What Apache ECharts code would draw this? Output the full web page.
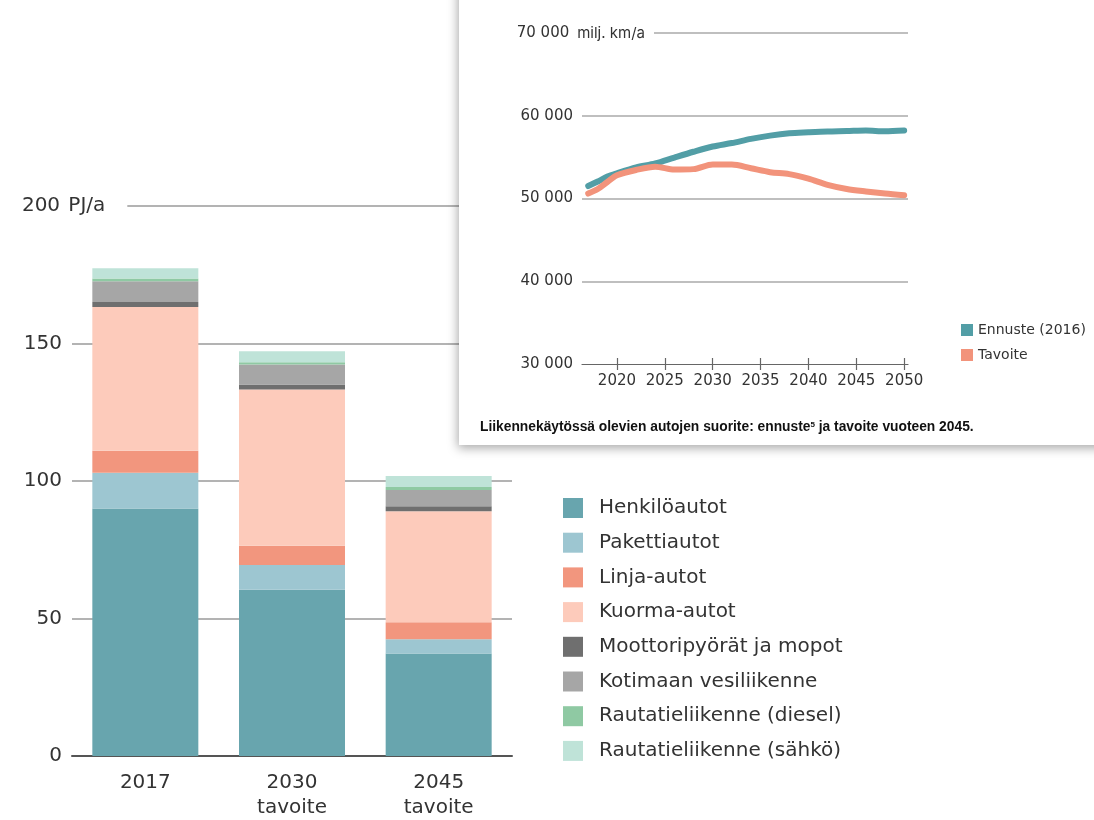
<!DOCTYPE html>
<html>
<head>
<meta charset="utf-8">
<script src="https://cdn.jsdelivr.net/npm/echarts@6/dist/echarts.min.js"></script>
<style>
  html, body { margin: 0; padding: 0; background: #fff; }
  #chart { width: 1094px; height: 820px; }
</style>
</head>
<body>
<div id="chart"></div>
<script>
// Energy use of road and domestic transport, PJ/a
const periods = ['2017', '2030\ntavoite', '2045\ntavoite'];
const henkiloautot = [90, 60.5, 37.3];
const pakettiautot = [13, 9, 5.2];
const linjaautot = [8, 7, 6.1];
const kuormaautot = [52.3, 56.8, 40.4];
const moottoripyorat = [1.8, 1.8, 1.8];
const vesiliikenne = [7.5, 7.3, 5.9];
const rautatieDiesel = [1, 0.8, 1.1];
const rautatieSahko = [3.8, 4, 4];
const energyTicks = [0, 50, 100, 150, 200];

// Vehicle kilometres of cars in traffic use, million km/a
const years = [2017, 2018, 2019, 2020, 2022, 2024, 2026, 2028, 2030, 2032, 2034, 2036, 2038, 2040, 2042, 2044, 2046, 2048, 2050];
const ennuste = [51500, 52050, 52650, 53050, 53750, 54230, 54950, 55650, 56280, 56700, 57200, 57600, 57880, 58000, 58100, 58150, 58220, 58120, 58220];
const tavoite = [50600, 51150, 52000, 52800, 53450, 53850, 53500, 53550, 54100, 54100, 53650, 53180, 52950, 52400, 51650, 51150, 50850, 50600, 50400];
const yearTicks = [2020, 2025, 2030, 2035, 2040, 2045, 2050];
const distanceTicks = [30000, 40000, 50000, 60000, 70000];

const FONT = 'DejaVu Sans';
const TEXT = '#333';

const barSeries = [
  ['Henkilöautot', henkiloautot, '#68a5ae'],
  ['Pakettiautot', pakettiautot, '#9dc6d1'],
  ['Linja-autot', linjaautot, '#f2967e'],
  ['Kuorma-autot', kuormaautot, '#fdcbbb'],
  ['Moottoripyörät ja mopot', moottoripyorat, '#6f6f6f'],
  ['Kotimaan vesiliikenne', vesiliikenne, '#a6a6a6'],
  ['Rautatieliikenne (diesel)', rautatieDiesel, '#8fc9a3'],
  ['Rautatieliikenne (sähkö)', rautatieSahko, '#bfe3d8']
].map(([name, values, color]) => ({
  name, type: 'bar', stack: 'energia', barWidth: 106,
  xAxisIndex: 0, yAxisIndex: 0, data: values,
  itemStyle: { color }, emphasis: { disabled: true }, z: 2
}));

const fmtThousands = v => String(v).replace(/\B(?=(\d{3})+(?!\d))/g, ' ');

const chart = echarts.init(document.getElementById('chart'), null, { renderer: 'canvas' });
chart.setOption({
  animation: false,
  backgroundColor: '#fff',
  textStyle: { fontFamily: FONT },
  graphic: [{
    // white panel holding the vehicle-kilometre chart
    type: 'rect', z: 1,
    shape: { x: 459, y: -30, width: 700, height: 475 },
    style: { fill: '#fff', shadowBlur: 10, shadowColor: 'rgba(0,0,0,0.35)', shadowOffsetX: -1, shadowOffsetY: 3 }
  }],
  title: {
    left: 475, top: 414, z: 4,
    text: '{a|Liikennekäytössä olevien autojen suorite: ennuste}{s|5}{a| ja tavoite vuoteen 2045.}',
    textStyle: {
      rich: {
        a: { fontFamily: 'Liberation Sans', fontWeight: 'bold', fontSize: 13.8, color: '#111', lineHeight: 17 },
        s: { fontFamily: 'Liberation Sans', fontWeight: 'bold', fontSize: 8, color: '#111', padding: [0, 0, 6, 0] }
      }
    }
  },
  legend: [{
    orient: 'vertical', left: 558, top: 492,
    icon: 'rect', itemWidth: 20, itemHeight: 20, itemGap: 12.7,
    data: barSeries.map(s => s.name),
    selectedMode: false,
    textStyle: { fontFamily: FONT, fontSize: 20, color: TEXT, lineHeight: 22, padding: [0, 0, 0, 11] }
  }, {
    orient: 'vertical', left: 956, top: 318, z: 4,
    icon: 'rect', itemWidth: 12, itemHeight: 12, itemGap: 11,
    data: ['Ennuste (2016)', 'Tavoite'],
    selectedMode: false,
    textStyle: { fontFamily: FONT, fontSize: 14, color: TEXT, lineHeight: 14 }
  }],
  grid: [
    { left: 72, top: 206, width: 440, height: 552 },
    { left: 582, top: 33, width: 326, height: 331 }
  ],
  xAxis: [{
    gridIndex: 0, type: 'category', data: periods,
    axisLine: { lineStyle: { color: '#555', width: 2 } },
    axisTick: { show: false },
    axisLabel: { color: TEXT, fontFamily: FONT, fontSize: 20, lineHeight: 25, margin: 14 }
  }, {
    gridIndex: 1, type: 'value', position: 'bottom', min: 2016.35, max: 2050.4, z: 2,
    axisLine: { lineStyle: { color: '#666', width: 1.2 } },
    axisTick: { show: true, customValues: yearTicks, length: 6, lineStyle: { color: '#666', width: 1.2 } },
    axisLabel: { customValues: yearTicks, formatter: v => String(v), color: TEXT, fontFamily: FONT, fontSize: 15, margin: 10 },
    splitLine: { show: false }
  }, {
    gridIndex: 1, type: 'value', position: 'bottom', offset: 0, min: 2016.35, max: 2050.4, z: 2,
    axisLine: { show: false },
    axisTick: { show: true, inside: true, customValues: yearTicks, length: 6, lineStyle: { color: '#666', width: 1.2 } },
    axisLabel: { show: false },
    splitLine: { show: false }
  }],
  yAxis: [{
    gridIndex: 0, type: 'value', min: 0, max: 200, interval: 50,
    axisLine: { show: false }, axisTick: { show: false },
    splitLine: { showMinLine: false, lineStyle: { color: '#9a9a9a', width: 1.5 } },
    axisLabel: {
      align: 'left', margin: 52,
      formatter: v => v === energyTicks[energyTicks.length - 1] ? '{v|' + v + '}{u| PJ/a}' : '{v|' + v + '}',
      rich: {
        v: { width: 42, align: 'right', fontFamily: FONT, fontSize: 20, color: TEXT },
        u: { fontFamily: FONT, fontSize: 20, color: TEXT, backgroundColor: '#fff', padding: [2, 22, 2, 0] }
      }
    }
  }, {
    gridIndex: 1, type: 'value', min: 30000, max: 70000, interval: 10000, z: 2,
    axisLine: { show: false }, axisTick: { show: false },
    splitLine: { showMinLine: false, lineStyle: { color: '#aaa', width: 1.5 } },
    axisLabel: {
      align: 'left', margin: 69,
      formatter: v => v === distanceTicks[distanceTicks.length - 1]
        ? '{v|' + fmtThousands(v) + '}{u| milj. km/a}' : '{v|' + fmtThousands(v) + '}',
      rich: {
        v: { width: 60, align: 'right', fontFamily: FONT, fontSize: 15, color: TEXT },
        u: { fontFamily: 'Inter', fontSize: 15, color: TEXT, backgroundColor: '#fff', padding: [2, 9, 2, 0] }
      }
    }
  }],
  series: barSeries.concat([{
    name: 'Ennuste (2016)', type: 'line', xAxisIndex: 1, yAxisIndex: 1, z: 3,
    data: years.map((y, i) => [y, ennuste[i]]),
    showSymbol: false, smooth: 0.3,
    itemStyle: { color: '#529ea6' },
    lineStyle: { color: '#529ea6', width: 6, cap: 'round', join: 'round' },
    emphasis: { disabled: true }
  }, {
    name: 'Tavoite', type: 'line', xAxisIndex: 1, yAxisIndex: 1, z: 3,
    data: years.map((y, i) => [y, tavoite[i]]),
    showSymbol: false, smooth: 0.3,
    itemStyle: { color: '#f2937b' },
    lineStyle: { color: '#f2937b', width: 6, cap: 'round', join: 'round' },
    emphasis: { disabled: true }
  }])
});
</script>
</body>
</html>
